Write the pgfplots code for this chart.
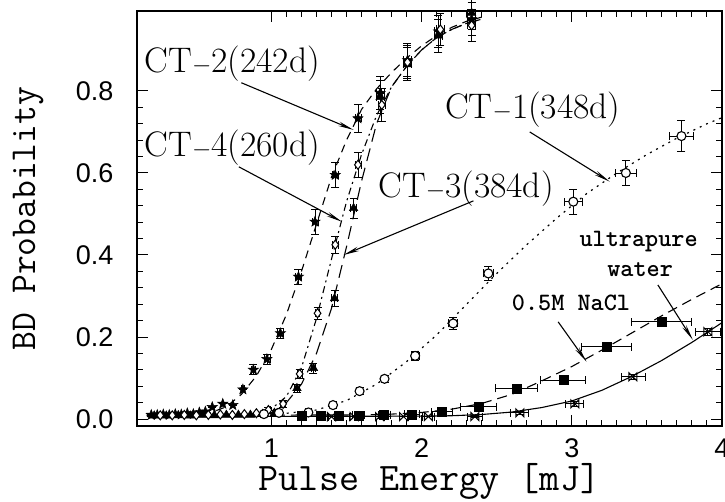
\documentclass[border=0pt]{standalone}
\usepackage{pgfplots}
\pgfplotsset{compat=1.18}
\usepackage{pgfplotstable}
\usepackage{fontspec}
\newfontfamily\sansf{Liberation Sans}
\usetikzlibrary{arrows.meta}

\pgfdeclareplotmark{fstar}{%
  \pgfpathmoveto{\pgfpointpolar{90}{1.2\pgfplotmarksize}}%
  \pgfpathlineto{\pgfpointpolar{126}{0.5\pgfplotmarksize}}%
  \pgfpathlineto{\pgfpointpolar{162}{1.2\pgfplotmarksize}}%
  \pgfpathlineto{\pgfpointpolar{198}{0.5\pgfplotmarksize}}%
  \pgfpathlineto{\pgfpointpolar{234}{1.2\pgfplotmarksize}}%
  \pgfpathlineto{\pgfpointpolar{270}{0.5\pgfplotmarksize}}%
  \pgfpathlineto{\pgfpointpolar{306}{1.2\pgfplotmarksize}}%
  \pgfpathlineto{\pgfpointpolar{342}{0.5\pgfplotmarksize}}%
  \pgfpathlineto{\pgfpointpolar{18}{1.2\pgfplotmarksize}}%
  \pgfpathlineto{\pgfpointpolar{54}{0.5\pgfplotmarksize}}%
  \pgfpathclose
  \pgfusepathqfillstroke}
\pgfdeclareplotmark{bowtie}{%
  \pgfpathmoveto{\pgfqpoint{-\pgfplotmarksize}{-\pgfplotmarksize}}%
  \pgfpathlineto{\pgfqpoint{\pgfplotmarksize}{\pgfplotmarksize}}%
  \pgfpathlineto{\pgfqpoint{\pgfplotmarksize}{-\pgfplotmarksize}}%
  \pgfpathlineto{\pgfqpoint{-\pgfplotmarksize}{\pgfplotmarksize}}%
  \pgfpathclose
  \pgfusepathqstroke}

% CT-2 (stars)
\pgfplotstableread{
x y ex ey
0.20 0.010 0 0
0.24 0.010 0 0
0.28 0.011 0 0
0.32 0.010 0 0
0.36 0.012 0 0
0.40 0.011 0 0
0.44 0.014 0 0
0.48 0.012 0 0
0.52 0.016 0 0
0.56 0.018 0 0
0.606 0.029 0 0
0.676 0.037 0 0
0.743 0.034 0 0
0.81 0.072 0.01 0
0.88 0.120 0.015 0.012
0.97 0.146 0.02 0.012
1.06 0.209 0.02 0.012
1.18 0.347 0.02 0.018
1.29 0.481 0.02 0.03
1.425 0.595 0.02 0.03
1.576 0.733 0.02 0.035
1.724 0.795 0.025 0.04
1.906 0.875 0.025 0.04
2.112 0.945 0.025 0.04
2.333 0.975 0.025 0.04
}\ctwo
% CT-4 (triangles)
\pgfplotstableread{
x y ex ey
0.22 0.008 0 0
0.30 0.008 0 0
0.38 0.009 0 0
0.46 0.008 0 0
0.54 0.010 0 0
0.62 0.009 0 0
0.70 0.010 0 0
0.78 0.010 0 0
0.86 0.010 0 0
0.94 0.012 0 0
1.02 0.015 0.01 0.005
1.17 0.075 0.015 0.01
1.28 0.124 0.015 0.012
1.42 0.294 0.02 0.02
1.547 0.514 0.02 0.025
1.724 0.785 0.025 0.04
1.906 0.865 0.025 0.04
2.112 0.935 0.025 0.04
2.333 0.990 0.025 0.04
}\cfour
% CT-3 (diamonds)
\pgfplotstableread{
x y ex ey
0.26 0.009 0 0
0.34 0.009 0 0
0.42 0.010 0 0
0.50 0.009 0 0
0.58 0.010 0 0
0.66 0.011 0 0
0.74 0.010 0 0
0.82 0.012 0 0
0.90 0.014 0 0
0.98 0.022 0.01 0.006
1.078 0.037 0.015 0.008
1.188 0.110 0.015 0.012
1.307 0.258 0.015 0.015
1.425 0.425 0.02 0.02
1.576 0.620 0.02 0.03
1.735 0.766 0.025 0.04
1.906 0.870 0.025 0.04
2.125 0.950 0.025 0.04
2.333 0.960 0.025 0.04
}\cthree
% CT-1 (circles)
\pgfplotstableread{
x y ex ey
0.95 0.012 0.01 0.004
1.05 0.015 0.01 0.004
1.246 0.016 0.02 0.006
1.41 0.034 0.02 0.006
1.587 0.068 0.02 0.008
1.753 0.098 0.02 0.008
1.957 0.154 0.025 0.01
2.21 0.233 0.03 0.015
2.444 0.355 0.035 0.018
3.01 0.530 0.06 0.03
3.36 0.600 0.07 0.03
3.73 0.690 0.08 0.037
}\cone
% 0.5M NaCl (squares)
\pgfplotstableread{
x y ex ey
1.20 0.008 0.02 0
1.33 0.008 0.03 0
1.45 0.008 0.03 0
1.58 0.009 0.04 0
1.75 0.011 0.04 0
1.935 0.0115 0.05 0.004
2.134 0.018 0.07 0.005
2.378 0.030 0.12 0.006
2.633 0.075 0.14 0.008
2.943 0.095 0.15 0.008
3.23 0.176 0.166 0.01
3.596 0.237 0.20 0.012
}\nacl
% ultrapure water (bowties)
\pgfplotstableread{
x y ex ey
1.40 0.006 0.02 0
1.55 0.006 0.03 0
1.72 0.006 0.03 0
1.88 0.006 0.03 0
2.045 0.006 0.04 0
2.355 0.006 0.05 0.003
2.654 0.015 0.06 0.004
3.02 0.037 0.06 0.005
3.407 0.103 0.08 0.006
3.906 0.213 0.08 0.008
}\water

\begin{document}
\begin{tikzpicture}
\path[use as bounding box] (-137pt,-76pt) rectangle (588pt,426pt);
\begin{axis}[
  at={(0pt,0pt)}, anchor=south west,
  scale only axis, width=585pt, height=415pt,
  xmin=0.105, xmax=4.0, ymin=-0.017, ymax=0.995,
  axis line style={line width=1.4pt},
  xtick={1,2,3,4}, ytick={0,0.2,0.4,0.6,0.8},
  minor x tick num=9, minor y tick num=4,
  major tick length=11pt, minor tick length=6pt,
  every tick/.style={black, line width=1pt},
  tick align=inside,
  /pgf/number format/assume math mode=true,
  ticklabel style={font=\sansf\fontsize{27}{27}\selectfont},
  yticklabel style={/pgf/number format/.cd, fixed, fixed zerofill, precision=1, /tikz/.cd, xshift=-20pt},
  xticklabel style={yshift=-9pt},
  xlabel={Pulse Energy [mJ]},
  xlabel style={font=\ttfamily\fontsize{39}{39}\selectfont, at={(axis description cs:0.5,0)}, anchor=base, yshift=-65pt},
  ylabel={BD Probability},
  ylabel style={font=\ttfamily\fontsize{36.5}{36.5}\selectfont, at={(axis description cs:-0.1863,0.5)}, anchor=center},
  error bars/error bar style={line width=0.8pt, black},
  error bars/error mark options={line width=0.8pt, black, mark size=4pt, rotate=90},
  clip=false,
]
% fit curves
\addplot[black, line width=1.1pt, dash pattern=on 8pt off 6pt] coordinates {(0.17,0.010)(0.5,0.011)(0.6,0.016)(0.7,0.03)(0.8,0.06)(0.9,0.105)(1.0,0.17)(1.1,0.255)(1.2,0.36)(1.3,0.475)(1.4,0.59)(1.5,0.68)(1.6,0.755)(1.7,0.805)(1.8,0.845)(1.9,0.88)(2.0,0.91)(2.1,0.935)(2.2,0.955)(2.3,0.97)(2.4,0.98)};
\addplot[black, line width=1.1pt, dash pattern=on 13pt off 7pt] coordinates {(0.17,0.009)(0.9,0.010)(1.0,0.015)(1.1,0.04)(1.2,0.085)(1.3,0.16)(1.4,0.27)(1.5,0.42)(1.6,0.58)(1.7,0.72)(1.8,0.81)(1.9,0.86)(2.0,0.9)(2.1,0.93)(2.2,0.95)(2.3,0.965)(2.4,0.975)};
\addplot[black, line width=1.1pt, dash pattern=on 7pt off 4pt on 2pt off 4pt] coordinates {(0.17,0.009)(0.8,0.010)(0.9,0.014)(1.0,0.025)(1.1,0.055)(1.2,0.125)(1.3,0.245)(1.4,0.39)(1.5,0.53)(1.6,0.645)(1.7,0.74)(1.8,0.81)(1.9,0.86)(2.0,0.9)(2.1,0.93)(2.2,0.95)(2.3,0.965)(2.4,0.975)};
\addplot[black, line width=1.2pt, dash pattern=on 2pt off 5pt] coordinates {(0.17,0.01)(0.9,0.011)(1.1,0.014)(1.3,0.022)(1.5,0.045)(1.7,0.085)(1.9,0.14)(2.1,0.205)(2.3,0.28)(2.5,0.355)(2.7,0.425)(2.9,0.49)(3.1,0.55)(3.3,0.6)(3.5,0.645)(3.7,0.685)(3.9,0.72)(4.0,0.735)};
\addplot[black, line width=1.1pt, dash pattern=on 10pt off 6pt] coordinates {(0.17,0.009)(1.6,0.01)(1.8,0.012)(2.0,0.016)(2.2,0.024)(2.4,0.038)(2.6,0.06)(2.8,0.093)(3.0,0.128)(3.2,0.168)(3.4,0.21)(3.6,0.252)(3.8,0.292)(4.0,0.33)};
\addplot[black, line width=1.1pt] coordinates {(0.17,0.006)(2.0,0.007)(2.2,0.008)(2.4,0.011)(2.6,0.017)(2.8,0.028)(3.0,0.044)(3.2,0.07)(3.4,0.104)(3.6,0.143)(3.8,0.187)(4.0,0.235)};
% data points
\addplot[only marks, mark=fstar, mark size=4.5pt, mark options={fill=black, draw=black, line width=0.5pt},
  error bars/.cd, x dir=both, x explicit, y dir=both, y explicit]
  table[x=x, y=y, x error=ex, y error=ey] {\ctwo};
\addplot[only marks, mark=triangle*, mark size=5pt, mark options={fill=black, draw=black},
  error bars/.cd, x dir=both, x explicit, y dir=both, y explicit]
  table[x=x, y=y, x error=ex, y error=ey] {\cfour};
\addplot[only marks, mark=diamond*, mark size=4.5pt, mark options={fill=white, draw=black, line width=1pt},
  error bars/.cd, x dir=both, x explicit, y dir=both, y explicit]
  table[x=x, y=y, x error=ex, y error=ey] {\cthree};
\addplot[only marks, mark=*, mark size=4.5pt, mark options={fill=white, draw=black, line width=1.1pt},
  error bars/.cd, x dir=both, x explicit, y dir=both, y explicit]
  table[x=x, y=y, x error=ex, y error=ey] {\cone};
\addplot[only marks, mark=square*, mark size=4.5pt, mark options={fill=black, draw=black},
  error bars/.cd, x dir=both, x explicit, y dir=both, y explicit]
  table[x=x, y=y, x error=ex, y error=ey] {\nacl};
\addplot[only marks, mark=bowtie, mark size=4pt, mark options={draw=black, line width=1pt},
  error bars/.cd, x dir=both, x explicit, y dir=both, y explicit]
  table[x=x, y=y, x error=ex, y error=ey] {\water};
% annotations
\node[anchor=base west, inner sep=0pt, font=\fontsize{35.5}{35.5}\selectfont] at (axis cs:0.155,0.846) {CT$-$2(242d)};
\node[anchor=base west, inner sep=0pt, font=\fontsize{35.5}{35.5}\selectfont] at (axis cs:0.155,0.639) {CT$-$4(260d)};
\node[anchor=base west, inner sep=0pt, font=\fontsize{35.5}{35.5}\selectfont] at (axis cs:1.711,0.541) {CT$-$3(384d)};
\node[anchor=base west, inner sep=0pt, font=\fontsize{35.5}{35.5}\selectfont] at (axis cs:2.156,0.734) {CT$-$1(348d)};
\node[anchor=base west, inner sep=0pt, font=\ttfamily\bfseries\fontsize{25}{25}\selectfont] at (axis cs:2.60,0.264) {0.5M NaCl};
\node[anchor=base, inner sep=0pt, font=\ttfamily\bfseries\fontsize{25}{25}\selectfont] at (axis cs:3.445,0.42) {ultrapure};
\node[anchor=base, inner sep=0pt, font=\ttfamily\bfseries\fontsize{25}{25}\selectfont] at (axis cs:3.455,0.347) {water};
\draw[line width=1.1pt, -{Stealth[length=16pt,width=4.5pt]}] (axis cs:0.80,0.82) -- (axis cs:1.547,0.705);
\draw[line width=1.1pt, -{Stealth[length=16pt,width=4.5pt]}] (axis cs:0.783,0.615) -- (axis cs:1.47,0.481);
\draw[line width=1.1pt, -{Stealth[length=16pt,width=4.5pt]}] (axis cs:2.345,0.532) -- (axis cs:1.48,0.40);
\draw[line width=1.1pt, -{Stealth[length=16pt,width=4.5pt]}] (axis cs:2.72,0.70) -- (axis cs:3.252,0.579);
\draw[line width=1.1pt, -{Stealth[length=16pt,width=4.5pt]}] (axis cs:2.909,0.237) -- (axis cs:3.098,0.14);
\draw[line width=1.1pt, -{Stealth[length=16pt,width=4.5pt]}] (axis cs:3.573,0.327) -- (axis cs:3.806,0.193);
\end{axis}
\end{tikzpicture}
\end{document}
